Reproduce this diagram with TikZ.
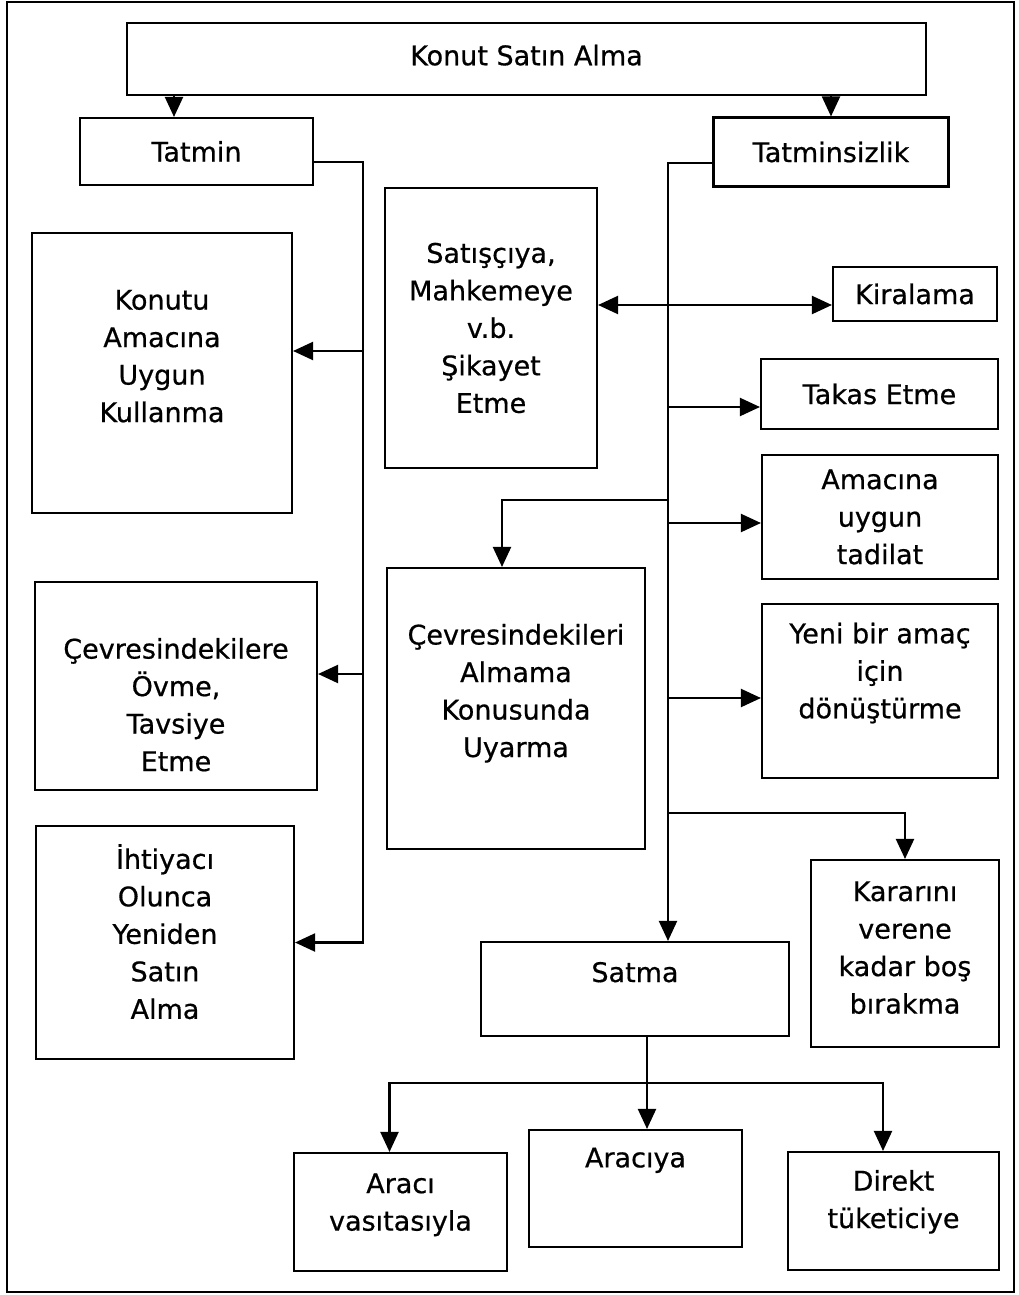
\documentclass[tikz,border=0pt]{standalone}
\usepackage{fontspec}
\setmainfont{DejaVu Sans}[UprightFeatures={FakeBold=0.6}]
\usetikzlibrary{arrows.meta}
\newcommand{\liftby}[1]{\rule[-#1]{0pt}{#1}}
\newcommand{\sinkby}[1]{\rule{0pt}{#1}}

\begin{document}
\begin{tikzpicture}[x=1pt, y=-1pt, line width=2.1pt,
    box/.style={draw, align=center, inner sep=2pt, font=\fontsize{27}{37.5}\selectfont},
    arr/.style={-{Triangle[length=20pt,width=18pt]}},
    arrs/.style={{Triangle[length=20pt,width=18pt]}-{Triangle[length=20pt,width=18pt]}}]
    \useasboundingbox (0,0) rectangle (1018,1295);
    \draw (7,2) rectangle (1014,1292);

    \node [box, minimum width=799, minimum height=72] (buy) at (526.5,59) {Konut Satın Alma\liftby{8pt}};
    \node [box, minimum width=233, minimum height=67] (sat) at (196.5,151.5) {Tatmin};
    \node [box, minimum width=235, minimum height=69] (unsat) at (831,152) {Tatminsizlik};

    \node [box, minimum width=260, minimum height=280] (use) at (162,373) {Konutu\\Amacına\\Uygun\\Kullanma\liftby{34pt}};
    \node [box, minimum width=282, minimum height=208] (praise) at (176,686) {\sinkby{58pt}Çevresindekilere\\Övme,\\Tavsiye\\Etme};
    \node [box, minimum width=258, minimum height=233] (rebuy) at (165,942.5) {İhtiyacı\\Olunca\\Yeniden\\Satın\\Alma\liftby{22pt}};

    \node [box, minimum width=212, minimum height=280] (complain) at (491,328) {Satışçıya,\\Mahkemeye\\v.b.\\Şikayet\\Etme};
    \node [box, minimum width=258, minimum height=281] (warn) at (516,708.5) {Çevresindekileri\\Almama\\Konusunda\\Uyarma\liftby{36pt}};

    \node [box, minimum width=164, minimum height=54] (rent) at (915,294) {Kiralama};
    \node [box, minimum width=237, minimum height=70] (swap) at (879.5,394) {Takas Etme};
    \node [box, minimum width=236, minimum height=124] (fix) at (880,517) {Amacına\\uygun\\tadilat};
    \node [box, minimum width=236, minimum height=174] (convert) at (880,691) {Yeni bir amaç\\için\\dönüştürme\liftby{41pt}};
    \node [box, minimum width=188, minimum height=187] (wait) at (905,953.5) {Kararını\\verene\\kadar boş\\bırakma\liftby{12pt}};

    \node [box, minimum width=308, minimum height=94] (sell) at (635,989) {Satma\liftby{34pt}};
    \node [box, minimum width=213, minimum height=118] (agent) at (400.5,1212) {Aracı\\vasıtasıyla\liftby{20pt}};
    \node [box, minimum width=213, minimum height=117] (toagent) at (635.5,1188.5) {Aracıya\liftby{62pt}};
    \node [box, minimum width=211, minimum height=118] (direct) at (893.5,1211) {Direkt\\tüketiciye\liftby{24pt}};

    \draw [arr] ([xshift=-22.5pt]sat.north |- buy.south) -- ([xshift=-22.5pt]sat.north);
    \draw [arr] (buy.south -| unsat.north) -- (unsat.north);

    \coordinate (lt) at (363,162);
    \draw [arr] (sat.east |- lt) -- (lt) |- (rebuy.east);
    \draw [arr] (lt |- 0,351) -- (use.east |- 0,351);
    \draw [arr] (lt |- 0,674) -- (praise.east |- 0,674);

    \coordinate (rt) at (668,163);
    \draw [arr] (unsat.west |- rt) -- (rt) -- (sell.north -| rt);
    \draw [arrs] (complain.east |- 0,305) -- (rent.west |- 0,305);
    \draw [arr] (rt |- 0,407) -- (swap.west |- 0,407);
    \draw [arr] (rt |- 0,500) -| ([xshift=-14pt]warn.north);
    \draw [arr] (rt |- 0,523) -- (fix.west |- 0,523);
    \draw [arr] (rt |- 0,698) -- (convert.west |- 0,698);
    \draw [arr] (rt |- 0,813) -| (wait.north);

    \coordinate (st) at (647,1083);
    \draw (sell.south -| st) -- (st);
    \draw [arr] (st) -- (toagent.north -| st);
    \draw [arr] (st) -| ([xshift=-11pt]agent.north);
    \draw [arr] (st) -| ([xshift=-10.5pt]direct.north);
\end{tikzpicture}
\end{document}
